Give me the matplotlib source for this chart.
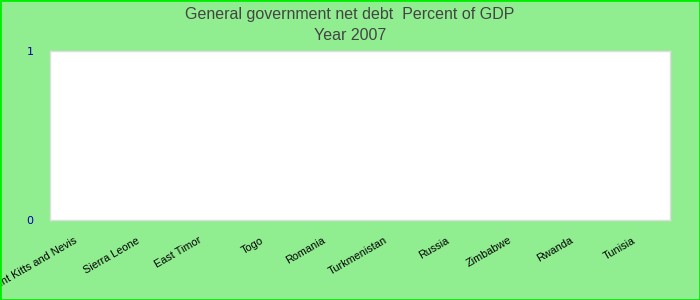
import matplotlib
matplotlib.use('Agg')
import numpy as np
import matplotlib.pyplot as plt
import matplotlib.transforms as mtrans

# data: no values reported for 2007
countries = ['Saint Kitts and Nevis', 'Sierra Leone', 'East Timor', 'Togo', 'Romania',
             'Turkmenistan', 'Russia', 'Zimbabwe', 'Rwanda', 'Tunisia']
values = [np.nan] * len(countries)
yticks = [0, 1]

title1 = 'General government net debt  Percent of GDP'
title2 = 'Year 2007'

plt.rcParams['font.family'] = ['Liberation Sans', 'DejaVu Sans']

fig = plt.figure(figsize=(7, 3), dpi=100, facecolor='#90ee90')
ax = fig.add_axes([50/700, 1 - 220/300, 620/700, 169/300])
ax.set_facecolor('white')

x = np.arange(len(countries))
ax.bar(x, values, color='#4572a7')
ax.set_xlim(-0.5, len(countries) - 0.5)
ax.set_ylim(0, 1)

ax.set_yticks(yticks)
ax.set_yticklabels([str(v) for v in yticks], color='#0000aa', fontsize=8,
                   family='DejaVu Sans')
ax.set_xticks(x)
ax.set_xticklabels(countries, rotation=30, ha='right', rotation_mode='anchor',
                   fontsize=7.8)
ax.tick_params(axis='both', length=0)
ax.tick_params(axis='x', pad=11)
ax.tick_params(axis='y', pad=12)

# nudge the rotated labels left a bit
shift = mtrans.ScaledTranslation(-7/100, 0, fig.dpi_scale_trans)
for lbl in ax.get_xticklabels():
    lbl.set_transform(lbl.get_transform() + shift)

for s in ax.spines.values():
    s.set_color('#dddddd')
    s.set_linewidth(1)

fig.text(0.5, 1 - 14/300, title1, ha='center', va='center', fontsize=11.5, color='#444444')
fig.text(0.5, 1 - 36/300, title2, ha='center', va='center', fontsize=11.5, color='#444444')

# outer green border
fig.add_artist(plt.Rectangle((0, 0), 1, 1, transform=fig.transFigure, fill=False,
                             edgecolor='#00ee00', linewidth=2))

fig.savefig('out.png', dpi=100, facecolor=fig.get_facecolor())
